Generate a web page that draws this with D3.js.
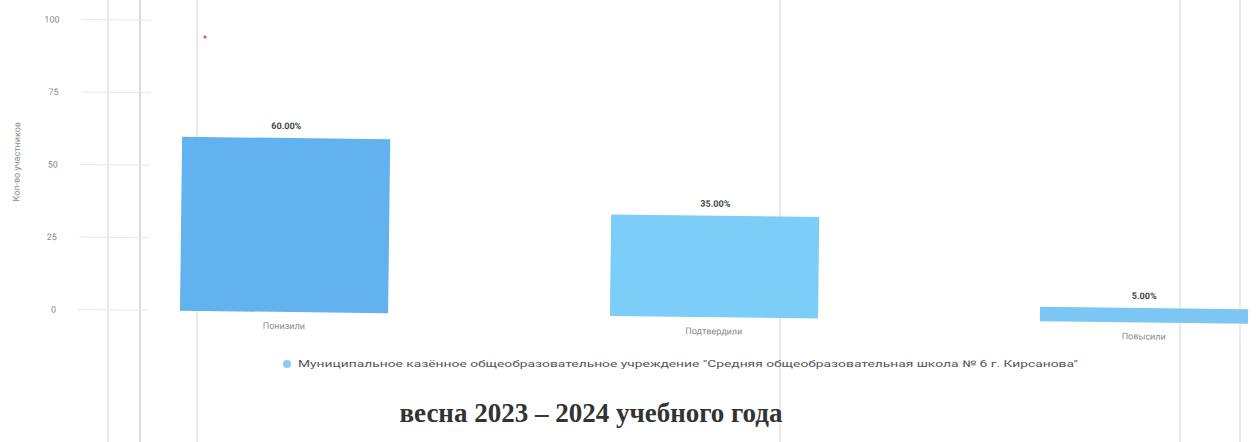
<!DOCTYPE html>
<html>
<head>
<meta charset="utf-8">
<script src="https://cdn.jsdelivr.net/npm/d3@7"></script>
<style>
  body { margin: 0; background: #fff; }
  svg { display: block; }
</style>
</head>
<body>
<svg width="1256" height="442"></svg>
<script>
// chart values
var categories = ["Понизили", "Подтвердили", "Повысили"];
var values = [60, 35, 5];
var valueLabels = ["60.00%", "35.00%", "5.00%"];
var yTicks = [0, 25, 50, 75, 100];
var seriesName = "Муниципальное казённое общеобразовательное учреждение \"Средняя общеобразовательная школа № 6 г. Кирсанова\"";
var barColors = ["#62b2ef", "#7ccdf8", "#7cc6f4"];

var svg = d3.select("svg"),
    width = +svg.attr("width"),
    height = +svg.attr("height");

// scan page lines in the background
var pageLines = [108, 140, 197, 780, 1180, 1240];
svg.selectAll(".page-line")
    .data(pageLines)
    .enter().append("line")
    .attr("x1", function(d) { return d; })
    .attr("x2", function(d) { return d; })
    .attr("y1", 0).attr("y2", height)
    .style("stroke", function(d, i) { return i == 1 ? "#cfcfcf" : "#e4e4e4"; })
    .style("stroke-width", 1.5);

// chart is slightly tilted, like the scanned page
var g = svg.append("g").attr("transform", "rotate(0.7, 285, 313)");

var x = d3.scaleBand()
    .domain(categories)
    .range([-35, 1463])
    .paddingInner(0.516)
    .paddingOuter(0.5);

var y = d3.scaleLinear()
    .domain([0, 100])
    .range([312, 22]);

// y grid stubs + tick labels
g.selectAll(".grid")
    .data(yTicks)
    .enter().append("line")
    .attr("x1", 78).attr("x2", 148)
    .attr("y1", function(d) { return y(d); })
    .attr("y2", function(d) { return y(d); })
    .style("stroke", "#e8e8e8");

var yAxis = g.append("g")
    .attr("transform", "translate(60,0)")
    .call(d3.axisLeft(y).tickValues(yTicks).tickSize(0).tickPadding(4));
yAxis.select(".domain").remove();
yAxis.selectAll("text")
    .style("font-family", "Roboto, sans-serif")
    .style("font-size", "9px")
    .style("fill", "#8a8a8a");

g.append("text")
    .attr("transform", "translate(18,165) rotate(-90)")
    .style("text-anchor", "middle")
    .style("font-family", "Roboto, sans-serif")
    .style("font-size", "9px")
    .style("fill", "#8a8a8a")
    .text("Кол-во участников");

// bars
g.selectAll(".bar")
    .data(values)
    .enter().append("rect")
    .attr("class", "bar")
    .attr("x", function(d, i) { return x(categories[i]); })
    .attr("y", function(d) { return y(d); })
    .attr("width", x.bandwidth())
    .attr("height", function(d) { return y(0) - y(d); })
    .style("fill", function(d, i) { return barColors[i]; });

g.selectAll(".vlabel")
    .data(values)
    .enter().append("text")
    .attr("x", function(d, i) { return x(categories[i]) + x.bandwidth() / 2; })
    .attr("y", function(d) { return y(d) - 9; })
    .style("text-anchor", "middle")
    .style("font-family", "Roboto, sans-serif")
    .style("font-size", "9px")
    .style("font-weight", "bold")
    .style("fill", "#444")
    .text(function(d, i) { return valueLabels[i]; });

g.selectAll(".clabel")
    .data(categories)
    .enter().append("text")
    .attr("x", function(d) { return x(d) + x.bandwidth() / 2; })
    .attr("y", y(0) + 17)
    .style("text-anchor", "middle")
    .style("font-family", "Roboto, sans-serif")
    .style("font-size", "9px")
    .style("fill", "#8a8a8a")
    .text(function(d) { return d; });

// legend
var legend = svg.append("g").attr("transform", "translate(287,364)");
legend.append("circle")
    .attr("r", 4)
    .style("fill", "#8ecdf2");
legend.append("text")
    .attr("x", 11).attr("dy", "0.35em")
    .attr("textLength", 780)
    .attr("lengthAdjust", "spacingAndGlyphs")
    .style("font-family", "Roboto, sans-serif")
    .style("font-size", "9px")
    .style("fill", "#555")
    .text(seriesName);

// red speck from the scan
svg.append("circle").attr("cx", 205).attr("cy", 37).attr("r", 1.5).style("fill", "#e05050");

// caption below the chart
svg.append("text")
    .attr("x", 591).attr("y", 422)
    .style("text-anchor", "middle")
    .style("font-family", "'Liberation Serif', 'Times New Roman', serif")
    .style("font-size", "27px")
    .style("font-weight", "bold")
    .style("fill", "#333")
    .text("весна 2023 – 2024 учебного года");
</script>
</body>
</html>
